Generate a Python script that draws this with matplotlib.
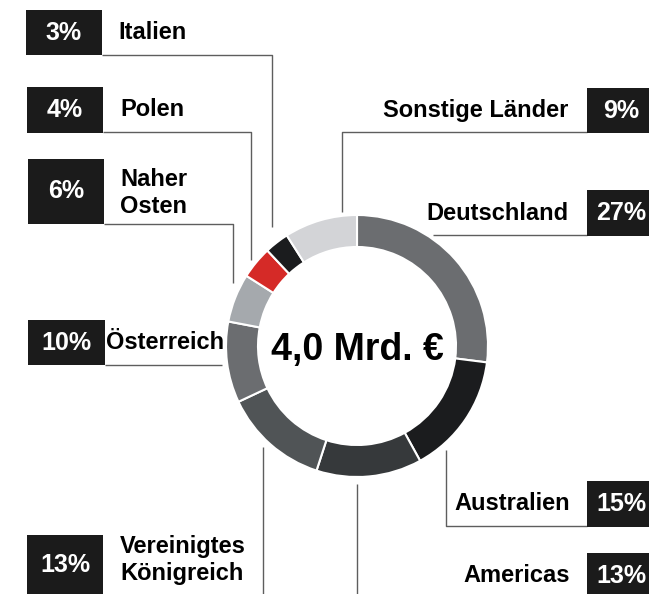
import matplotlib.pyplot as plt
from matplotlib.patches import Rectangle

plt.rcParams['font.family'] = ['Liberation Sans', 'DejaVu Sans']

# clockwise from 12 o'clock
countries = ['Deutschland', 'Australien', 'Americas', 'Vereinigtes\nKönigreich',
             'Österreich', 'Naher\nOsten', 'Polen', 'Italien', 'Sonstige Länder']
shares = [27, 15, 13, 13, 10, 6, 4, 3, 9]
colors = ['#6b6d70', '#1b1c1e', '#36393b', '#505456', '#6b6d70',
          '#a5a9ad', '#d52a27', '#1b1c1e', '#d3d4d7']
total_label = '4,0 Mrd. €'

W, H = 649, 594
BOX = '#1b1b1b'
LINE = '#5e5e5e'

# label layout in pixel coords (y down): box (x, y, w, h), side, text x, leader polyline
layout = {
    'Deutschland': dict(box=(587, 190, 68, 46), side='right', tx=568,
                        line=[(433, 235), (587, 235)]),
    'Australien': dict(box=(587, 481, 68, 46), side='right', tx=570,
                       line=[(446, 450), (446, 526), (587, 526)]),
    'Americas': dict(box=(587, 553, 68, 46), side='right', tx=570,
                     line=[(357, 484), (357, 594)]),
    'Vereinigtes\nKönigreich': dict(box=(27, 535, 76, 60), side='left', tx=120,
                                   line=[(263, 447), (263, 594)], ty=560),
    'Österreich': dict(box=(28, 320, 77, 45), side='left', tx=106,
                       line=[(105, 365), (222, 365)]),
    'Naher\nOsten': dict(box=(28, 159, 76, 65), side='left', tx=120,
                         line=[(104, 224), (233, 224), (233, 283)], ty=193),
    'Polen': dict(box=(27, 87, 76, 46), side='left', tx=120,
                  line=[(103, 132), (251, 132), (251, 260)]),
    'Italien': dict(box=(26, 10, 76, 45), side='left', tx=118,
                    line=[(102, 55), (272, 55), (272, 227)]),
    'Sonstige Länder': dict(box=(587, 88, 68, 45), side='right', tx=568,
                            line=[(587, 132), (342, 132), (342, 212)]),
}

fig = plt.figure(figsize=(W / 100, H / 100), dpi=100)
ax = fig.add_axes([0, 0, 1, 1])

# y axis is inverted below, so counterclock=True draws clockwise on screen
ax.pie(shares, colors=colors, startangle=-90, counterclock=True,
       center=(357, 346), radius=131,
       wedgeprops=dict(width=32, edgecolor='white', linewidth=1.5))

ax.text(357, 360, total_label, ha='center', va='baseline',
        fontsize=27, fontweight='bold', color='black')

for name, share in zip(countries, shares):
    lay = layout[name]
    bx, by, bw, bh = lay['box']
    right = lay['side'] == 'right'
    xs, ys = zip(*lay['line'])
    ax.plot(xs, ys, color=LINE, lw=1.0, solid_capstyle='butt', zorder=1)
    # right-hand boxes run off the edge of the picture
    ax.add_patch(Rectangle((bx, by), bw + (20 if right else 0), bh,
                           facecolor=BOX, edgecolor='none', zorder=2))
    cy = by + bh / 2
    ax.text(bx + bw / 2, cy, f'{share}%', ha='center', va='center',
            fontsize=18, fontweight='bold', color='white', zorder=3)
    ax.text(lay['tx'], lay.get('ty', cy), name, ha='right' if right else 'left',
            va='center', fontsize=17, fontweight='bold', color='black',
            linespacing=1.25)

ax.set_xlim(0, W)
ax.set_ylim(H, 0)
ax.axis('off')

fig.savefig('out.png', dpi=100)
